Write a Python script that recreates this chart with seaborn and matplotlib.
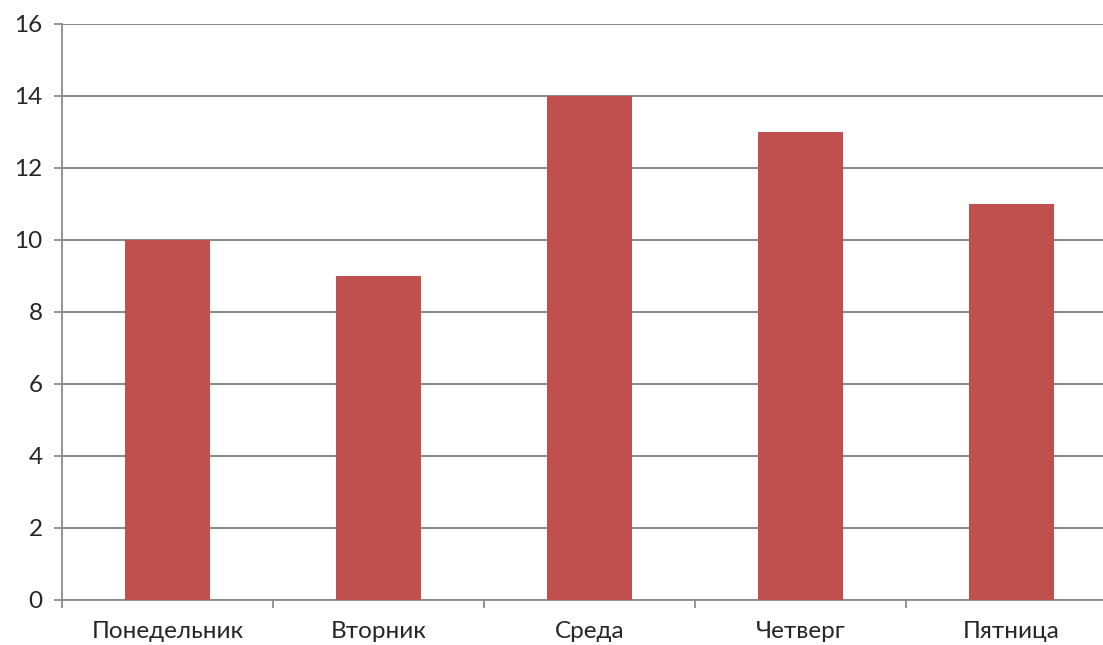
import numpy as np
import pandas as pd
import matplotlib.pyplot as plt
import seaborn as sns

days = ['Понедельник', 'Вторник', 'Среда', 'Четверг', 'Пятница']
values = [10, 9, 14, 13, 11]

sns.set_style('white')
plt.rcParams['font.family'] = ['Lato', 'DejaVu Sans']

df = pd.DataFrame({'day': days, 'value': values})

fig = plt.figure(figsize=(11.03, 6.45), dpi=100)
ax = fig.add_axes([62 / 1103, 45 / 645, 1055 / 1103, 576 / 645])

sns.barplot(data=df, x='day', y='value', color='#C0504D', width=0.4,
            saturation=1, linewidth=0, ax=ax, zorder=3)

ax.set_xlim(-0.5, 4.5)
ax.set_ylim(0, 16)
ax.set_yticks(np.arange(0, 17, 2))
ax.grid(axis='y', color='#8c8c8c', linewidth=1.5, zorder=0)
ax.set_axisbelow(True)

for s in ['top', 'right']:
    ax.spines[s].set_visible(False)
for s in ['left', 'bottom']:
    ax.spines[s].set_color('#8c8c8c')
    ax.spines[s].set_linewidth(1.3)

ax.set_xticks(np.arange(-0.5, 4.6, 1), minor=True)
ax.tick_params(axis='x', which='major', length=0, pad=15, labelsize=17.5)
ax.tick_params(axis='x', which='minor', length=6, color='#8c8c8c', width=1.3, bottom=True)
ax.tick_params(axis='y', length=6, color='#8c8c8c', width=1.3, left=True, pad=8, labelsize=17.5)

ax.set_xlabel('')
ax.set_ylabel('')

fig.savefig('out.png', dpi=100)
